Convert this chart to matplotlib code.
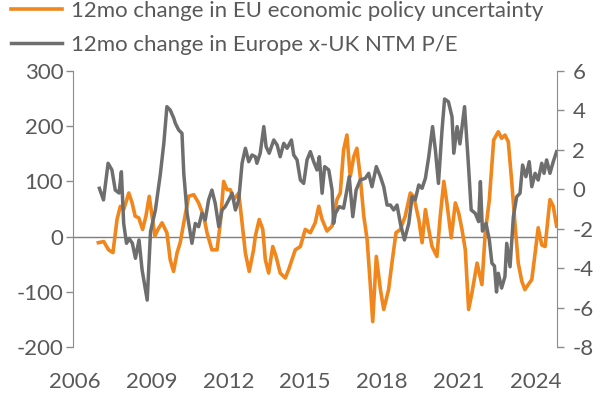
import matplotlib
matplotlib.use("Agg")
import matplotlib.pyplot as plt

plt.rcParams['font.family'] = ['Lato', 'DejaVu Sans']

# ---- data (decimal years) ----
epu_x = [2006.91, 2007.12, 2007.31, 2007.48, 2007.64, 2007.77, 2007.90, 2008.10, 2008.23, 2008.35,
         2008.49, 2008.64, 2008.77, 2008.90, 2009.01, 2009.12, 2009.24, 2009.40, 2009.59, 2009.72,
         2009.85, 2009.99, 2010.11, 2010.25, 2010.44, 2010.64, 2010.83, 2011.03, 2011.16, 2011.35,
         2011.55, 2011.68, 2011.81, 2011.94, 2012.07, 2012.20, 2012.40, 2012.53, 2012.66, 2012.81,
         2012.98, 2013.05, 2013.20, 2013.34, 2013.44, 2013.57, 2013.73, 2013.86, 2014.02, 2014.22,
         2014.35, 2014.48, 2014.61, 2014.81, 2015.00, 2015.20, 2015.39, 2015.53, 2015.66, 2015.85,
         2016.05, 2016.24, 2016.37, 2016.50, 2016.63, 2016.76, 2016.90, 2017.02, 2017.15, 2017.29,
         2017.42, 2017.54, 2017.64, 2017.78, 2017.94, 2018.07, 2018.26, 2018.39, 2018.55, 2018.72,
         2018.91, 2019.11, 2019.24, 2019.44, 2019.57, 2019.70, 2019.83, 2019.96, 2020.15, 2020.28,
         2020.42, 2020.54, 2020.71, 2020.87, 2021.00, 2021.13, 2021.26, 2021.39, 2021.52, 2021.72,
         2021.91, 2022.04, 2022.20, 2022.37, 2022.55, 2022.68, 2022.81, 2022.94, 2023.07, 2023.20,
         2023.33, 2023.47, 2023.59, 2023.72, 2023.86, 2023.99, 2024.11, 2024.25, 2024.38, 2024.57,
         2024.70, 2024.83]
epu_chg = [-11, -9, -24, -29, 31, 55, 49, 79, 61, 37,
           34, 13, 37, 73, 37, 1, 13, 25, 7, -42,
           -63, -29, -11, 25, 73, 76, 61, 37, 7, -24,
           -24, 25, 100, 85, 85, 67, 79, 25, -30, -63,
           -24, 1, 31, 13, -42, -66, -18, -36, -66, -75,
           -60, -42, -24, -18, 13, 7, 25, 55, 31, 10,
           19, 67, 79, 157, 184, 109, 145, 160, 109, 37,
           -5, -84, -154, -36, -96, -132, -96, -48, 7, 13,
           37, 79, 73, 31, -11, 49, 13, -18, -36, 37,
           100, 61, -2, 61, 43, 13, -24, -132, -102, -48,
           -87, 7, 67, 175, 190, 178, 184, 172, 103, 25,
           -48, -81, -96, -87, -78, -30, 16, -15, -18, 67,
           55, 19]

pe_x = [2006.95, 2007.11, 2007.29, 2007.44, 2007.57, 2007.72, 2007.81, 2007.90, 2008.01, 2008.11,
        2008.24, 2008.36, 2008.50, 2008.62, 2008.82, 2008.95, 2009.14, 2009.33, 2009.47, 2009.59,
        2009.72, 2009.86, 2009.92, 2010.05, 2010.18, 2010.25, 2010.38, 2010.57, 2010.70, 2010.83,
        2010.96, 2011.09, 2011.22, 2011.35, 2011.48, 2011.62, 2011.75, 2011.87, 2012.01, 2012.14,
        2012.27, 2012.40, 2012.53, 2012.66, 2012.79, 2012.92, 2013.05, 2013.11, 2013.24, 2013.38,
        2013.47, 2013.59, 2013.77, 2013.90, 2014.02, 2014.16, 2014.29, 2014.46, 2014.55, 2014.68,
        2014.81, 2014.94, 2015.07, 2015.20, 2015.33, 2015.46, 2015.55, 2015.66, 2015.76, 2015.92,
        2016.05, 2016.11, 2016.18, 2016.33, 2016.50, 2016.63, 2016.72, 2016.86, 2016.99, 2017.15,
        2017.35, 2017.48, 2017.61, 2017.78, 2017.94, 2018.07, 2018.20, 2018.33, 2018.46, 2018.59,
        2018.72, 2018.88, 2019.05, 2019.18, 2019.30, 2019.44, 2019.57, 2019.70, 2019.83, 2019.98,
        2020.09, 2020.21, 2020.35, 2020.45, 2020.60, 2020.74, 2020.81, 2020.94, 2021.05, 2021.23,
        2021.37, 2021.49, 2021.65, 2021.78, 2021.85, 2021.93, 2022.07, 2022.20, 2022.30, 2022.40,
        2022.48, 2022.55, 2022.68, 2022.81, 2022.88, 2023.01, 2023.14, 2023.27, 2023.40, 2023.50,
        2023.63, 2023.76, 2023.86, 2023.99, 2024.11, 2024.25, 2024.34, 2024.44, 2024.57, 2024.70,
        2024.83]
pe_chg = [0.05, -0.54, 1.32, 0.98, -0.04, -0.19, 0.89, -1.73, -2.74, -2.49,
          -2.74, -3.50, -2.57, -4.09, -5.62, -2.15, -1.05, 0.73, 2.33, 4.19,
          4.02, 3.60, 3.35, 3.01, 2.84, 0.81, -1.22, -2.74, -1.73, -1.90,
          -1.22, -1.56, -0.54, -0.04, -0.71, -1.90, -1.05, -0.88, -0.54, -0.20,
          -1.05, -0.54, 1.32, 2.08, 1.40, 1.74, 1.65, 1.32, 1.83, 3.18,
          2.16, 1.83, 2.50, 2.25, 1.65, 2.33, 2.08, 2.50, 1.74, 1.49,
          0.47, 0.30, 1.49, 1.91, 1.40, 0.98, 1.65, -0.20, 1.15, 0.98,
          -0.04, -1.73, -1.22, -0.88, -0.96, -0.04, 0.64, -1.39, -0.04, 0.47,
          0.56, 0.81, 0.13, 1.15, 0.64, 0.13, -0.80, -0.80, -1.05, -0.80,
          -1.73, -2.57, -1.73, -0.38, -0.54, 0.22, 0.05, 0.56, 1.65, 3.18,
          1.99, 0.30, 3.01, 4.58, 4.44, 3.68, 1.83, 3.18, 2.30, 4.19,
          1.49, -1.05, -1.22, -1.64, 0.39, -2.12, -1.73, -2.57, -3.75, -3.89,
          -5.21, -4.26, -5.01, -4.43, -2.74, -3.93, -1.39, -0.38, -0.20, 1.23,
          0.64, 1.40, 0.13, 0.81, 0.47, 1.32, 0.81, 1.49, 0.81, 1.40,
          1.91]

year_ticks = [2006, 2009, 2012, 2015, 2018, 2021, 2024]
left_ticks = [-200, -100, 0, 100, 200, 300]
right_ticks = [-8, -6, -4, -2, 0, 2, 4, 6]

label_epu = "12mo change in EU economic policy uncertainty"
label_pe = "12mo change in Europe x-UK NTM P/E"

# ---- style ----
ORANGE = '#F0861C'
GREY = '#6E6E6E'
TXT = '#595959'
SPINE = '#8C8C8C'
FS = 16

W, H = 611, 405
fig = plt.figure(figsize=(W / 100, H / 100), dpi=100)

px_left, px_right = 73, 557
px_top, px_bottom = 71, 347

ax = fig.add_axes([px_left / W, (H - px_bottom) / H, (px_right - px_left) / W, (px_bottom - px_top) / H])
ax2 = ax.twinx()

ax.set_xlim(2005.918, 2024.846)
ax.set_ylim(-200, 300)
ax2.set_ylim(-8, 6)

ax.axhline(0, color='#7F7F7F', lw=1.0, zorder=1)
l1, = ax.plot(epu_x, epu_chg, color=ORANGE, lw=2.6, solid_joinstyle='round', zorder=3)
l2, = ax2.plot(pe_x, pe_chg, color=GREY, lw=2.5, solid_joinstyle='round', zorder=3)

for a in (ax, ax2):
    a.patch.set_visible(False)
    for s in ('top', 'bottom'):
        a.spines[s].set_visible(False)
ax.spines['right'].set_visible(False)
ax2.spines['left'].set_visible(False)
ax.spines['left'].set_color(SPINE)
ax2.spines['right'].set_color(SPINE)

ax.set_yticks(left_ticks)
ax.set_yticklabels([str(v) for v in left_ticks])
ax2.set_yticks(right_ticks)
ax2.set_yticklabels([str(v) for v in right_ticks])
ax.tick_params(axis='y', direction='out', length=5, width=1, color=SPINE, labelsize=FS, labelcolor=TXT, pad=2)
ax2.tick_params(axis='y', direction='out', length=5, width=1, color=SPINE, labelsize=FS, labelcolor=TXT, pad=6)

ax.set_xticks(year_ticks)
ax.set_xticklabels([str(v) for v in year_ticks])
ax.tick_params(axis='x', length=0, labelsize=FS, labelcolor=TXT, pad=18)

leg = fig.legend([l1, l2], [label_epu, label_pe], loc='upper left',
                 bbox_to_anchor=(4 / W, 1 - (-6) / H), frameon=False,
                 fontsize=FS, handlelength=2.3, handletextpad=0.42, labelspacing=0.65,
                 borderaxespad=0, borderpad=0.3)
for t in leg.get_texts():
    t.set_color(TXT)

fig.savefig('out.png', dpi=100)
